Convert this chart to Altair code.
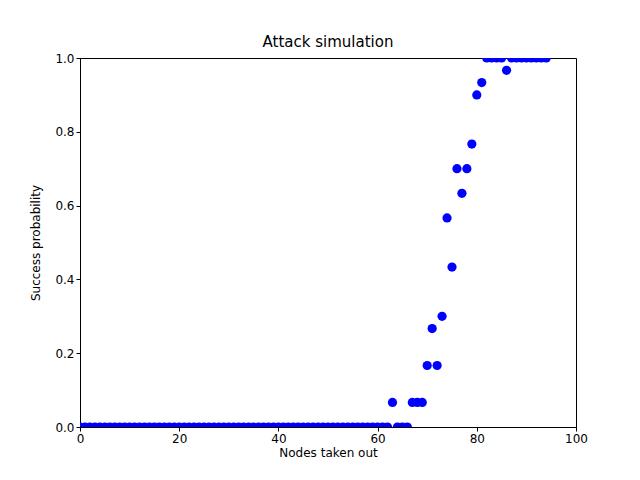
import altair as alt
import pandas as pd

# %% Data

nodes = list(range(95))
prob = [0.0] * 63 + [
    2 / 30, 0, 0, 0, 2 / 30, 2 / 30, 2 / 30, 5 / 30, 8 / 30, 5 / 30,
    9 / 30, 17 / 30, 13 / 30, 21 / 30, 19 / 30, 21 / 30, 23 / 30, 27 / 30, 28 / 30,
    1, 1, 1, 1, 29 / 30, 1, 1, 1, 1, 1, 1, 1, 1,
]
df = pd.DataFrame({"nodes": nodes, "prob": prob})

# %% Chart

axis = dict(
    grid=False, domainColor="black", tickColor="black", labelColor="black",
    titleColor="black", labelFontSize=12, titleFontSize=12, titleFontWeight="normal",
    labelFont="DejaVu Sans", titleFont="DejaVu Sans", tickSize=4, labelFlush=False,
)

chart = (
    alt.Chart(df, title=alt.Title("Attack simulation", font="DejaVu Sans",
                                  fontSize=15, fontWeight="normal", offset=2))
    .mark_circle(color="blue", opacity=1, size=85, clip=True)
    .encode(
        x=alt.X("nodes:Q", title="Nodes taken out",
                scale=alt.Scale(domain=[0, 100], nice=False),
                axis=alt.Axis(values=[0, 20, 40, 60, 80, 100], titlePadding=3, **axis)),
        y=alt.Y("prob:Q", title="Success probability",
                scale=alt.Scale(domain=[0, 1], nice=False),
                axis=alt.Axis(values=[0, 0.2, 0.4, 0.6, 0.8, 1.0], format=".1f",
                              titlePadding=12, **axis)),
    )
    .properties(
        width=496, height=369,
        autosize=alt.AutoSizeParams(type="none"),
        padding={"left": 72, "top": 50, "right": 56, "bottom": 45},
    )
    .configure_view(stroke="black", strokeWidth=1)
)

chart.save("out.html", embed_options={"renderer": "svg", "actions": False})
